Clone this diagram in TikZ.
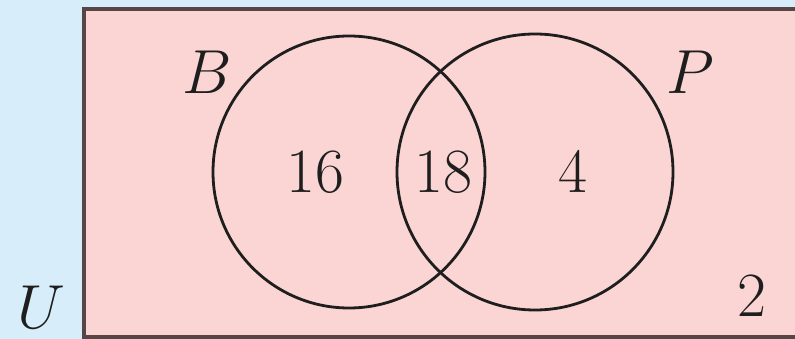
\documentclass[tikz,border=0pt]{standalone}
\usepackage{xcolor}
\definecolor{bgblue}{HTML}{D7EDFA}
\definecolor{boxpink}{HTML}{FBD5D4}
\definecolor{frame}{HTML}{564646}
\definecolor{ink}{HTML}{1E1E1E}
\begin{document}
\begin{tikzpicture}[x=1pt,y=-1pt,
  lbl/.style={inner sep=0pt,text=ink,font=\fontsize{63}{63}\selectfont},
  mlbl/.style={inner sep=0pt,text=ink,font=\Huge,scale=2.5},
  setc/.style={draw=ink,line width=2.8pt}]
\fill[bgblue] (0,0) rectangle (795,339);
\useasboundingbox (0,0) rectangle (795,339);
\draw[fill=boxpink,draw=frame,line width=4pt] (84,9) rectangle (805,337);
\node[setc,circle,minimum size=272pt,inner sep=0pt] (cB) at (349,172) {};
\node[setc,circle,minimum size=276pt,inner sep=0pt] (cP) at (535,172) {};
\node[mlbl,anchor=base] (lB) at (207,94) {$B$};
\node[mlbl,anchor=base] (lP) at (690,94) {$P$};
\node[mlbl,anchor=base] (lU) at (41,328) {$U$};
\node[lbl,anchor=base] (n16) at (315,193) {16};
\node[lbl,anchor=base] (n18) at (443,193) {18};
\node[lbl,anchor=base] (n4) at (573,193) {4};
\node[lbl,anchor=base] (n2) at (752,316) {2};
\end{tikzpicture}
\end{document}
